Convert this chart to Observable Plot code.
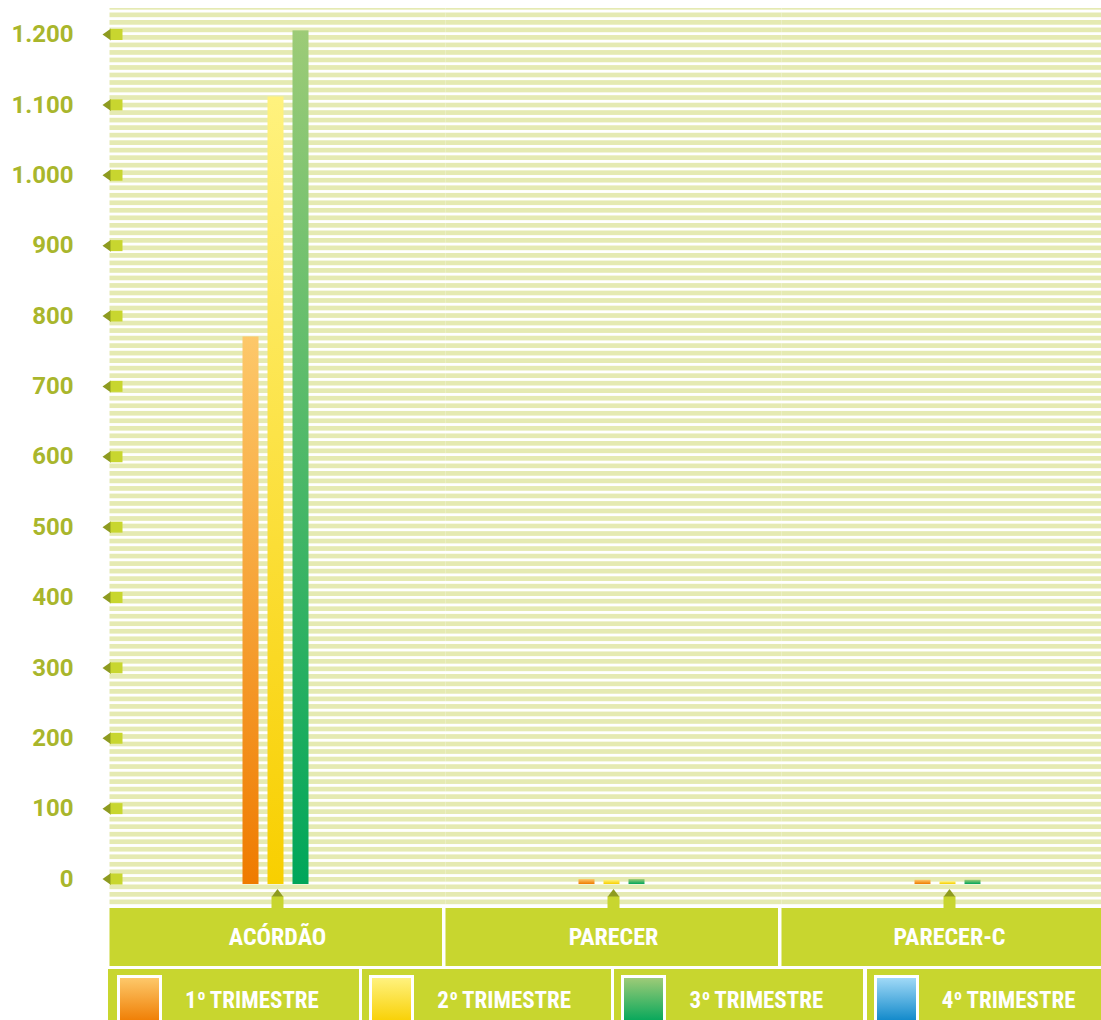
<!DOCTYPE html>
<html><head><meta charset="utf-8">
<script src="https://cdn.jsdelivr.net/npm/d3@7"></script>
<script src="https://cdn.jsdelivr.net/npm/@observablehq/plot@0.6"></script>
<style>
html,body{margin:0;padding:0;background:#fff;overflow:hidden;width:1101px;height:1020px}
#chart svg,#cats svg{display:block;overflow:hidden}
#legend{position:relative;height:51px;margin-top:3px;width:1101px;overflow:hidden}
.lcell{position:absolute;top:0;height:51px;background:#c8d62f}
.sw{position:absolute;left:7px;top:6px;width:39px;height:45px;border:3px solid #fff;border-bottom:none}
.lab{position:absolute;left:62px;width:160px;top:19.5px;line-height:23px;text-align:center;color:#fff;
 font-family:"Liberation Sans Narrow","Roboto Condensed","DejaVu Sans Condensed","Arial Narrow",sans-serif;font-weight:bold;font-size:23px;white-space:nowrap}
.lab .sup{font-size:15px;position:relative;top:-8px;margin-left:1px}
</style></head>
<body>
<div id="chart"></div>
<div id="cats"></div>
<div id="legend"></div>
<script>
// ---- data ----
const categories = ["ACÓRDÃO", "PARECER", "PARECER-C"];
const seriesNames = ["1º TRIMESTRE", "2º TRIMESTRE", "3º TRIMESTRE", "4º TRIMESTRE"];
const q1Values = [778, 7, 6];
const q2Values = [1119, 6, 4];
const q3Values = [1213, 7, 6];
const yTicks = [0, 100, 200, 300, 400, 500, 600, 700, 800, 900, 1000, 1100, 1200];

// ---- styles ----
const lime = "#c8d62f", olive = "#8e9b20", labelColor = "#a9b62c";
const gradients = [["#fdc86a", "#ef7b00"], ["#fff27e", "#f8cf00"], ["#9dcb77", "#00a65a"], ["#a0d9f7", "#0a85c8"]];
const condensed = "'Liberation Sans Narrow','Roboto Condensed','DejaVu Sans Condensed','Arial Narrow',sans-serif";

const seriesValues = [q1Values, q2Values, q3Values];
const data = categories.flatMap((c, i) => seriesValues.map((vals, k) => ({category: c, series: seriesNames[k], value: vals[i]})));

const fmt = d3.formatLocale({decimal: ",", thousands: ".", grouping: [3], currency: ["", ""]}).format(",");

// marker shapes
const sqLeft = {draw(ctx) { ctx.rect(1, -5.5, 12, 11); }};
const triLeft = {draw(ctx) { ctx.moveTo(-7, 0); ctx.lineTo(1.5, -6); ctx.lineTo(1.5, 6); ctx.closePath(); }};
const sqBottom = {draw(ctx) { ctx.rect(-6, -9, 12, 12); }};
const triBottom = {draw(ctx) { ctx.moveTo(0, -16.5); ctx.lineTo(-6, -8.5); ctx.lineTo(6, -8.5); ctx.closePath(); }};

const chart = Plot.plot({
  width: 1101, height: 908,
  marginTop: 7.5, marginBottom: 3, marginLeft: 108, marginRight: -16.5,
  fx: {domain: categories, padding: 0, axis: null, label: null},
  x: {domain: seriesNames.slice(0, 3), paddingInner: 0.346, paddingOuter: 5.14, axis: null, label: null},
  y: {domain: [0, 1200], range: [878.5, 34], axis: null},
  color: {domain: seriesNames, range: gradients.map((_, i) => `url(#g${i})`)},
  style: {background: "transparent"},
  marks: [
    Plot.frame({fill: "url(#stripes)", stroke: null}),
    Plot.barY(data, {fx: "category", x: "series", y: "value", fill: "series", dy: 5.5, dx: -1.5}),
    Plot.axisY(yTicks, {tickSize: 0, tickPadding: 36, fontSize: 24, fontWeight: "bold", fontFamily: "Roboto, 'Open Sans', sans-serif", fill: labelColor, tickFormat: fmt, label: null, facetAnchor: "left"}),
    Plot.dot(yTicks, {y: d => d, frameAnchor: "left", symbol: triLeft, r: 6, fill: olive, stroke: null, facetAnchor: "left"}),
    Plot.dot(yTicks, {y: d => d, frameAnchor: "left", symbol: sqLeft, r: 6, fill: lime, stroke: null, facetAnchor: "left"}),
    Plot.dot(categories, {fx: d => d, frameAnchor: "bottom", symbol: triBottom, r: 6, fill: olive, stroke: null}),
    Plot.dot(categories, {fx: d => d, frameAnchor: "bottom", symbol: sqBottom, r: 6, fill: lime, stroke: null})
  ]
});

const defs = d3.select(chart).insert("defs", ":first-child");
const pat = defs.append("pattern").attr("id", "stripes").attr("patternUnits", "userSpaceOnUse")
  .attr("width", 20).attr("height", 7.517).attr("y", 4.483);
pat.append("rect").attr("width", 20).attr("height", 4.7).attr("fill", "#e5eab2");
gradients.forEach(([a, b], i) => {
  const g = defs.append("linearGradient").attr("id", `g${i}`).attr("x1", 0).attr("y1", 0).attr("x2", 0).attr("y2", 1);
  g.append("stop").attr("offset", 0).attr("stop-color", a);
  g.append("stop").attr("offset", 1).attr("stop-color", b);
});
document.getElementById("chart").append(chart);

const cats = Plot.plot({
  width: 1101, height: 58,
  marginTop: 0, marginBottom: 0, marginLeft: 108, marginRight: -16.5,
  x: {domain: categories, padding: 0, axis: null},
  style: {background: "transparent"},
  marks: [
    Plot.cell(categories, {x: d => d, fill: lime, insetLeft: 0.5, insetRight: 3}),
    Plot.text(categories, {x: d => d, text: d => d, frameAnchor: "middle", fill: "white", fontSize: 24, fontWeight: "bold", fontFamily: condensed})
  ]
});
document.getElementById("cats").append(cats);

const legend = d3.select("#legend");
seriesNames.forEach((name, i) => {
  const left = 110 + 252.2 * i;
  const cell = legend.append("div").attr("class", "lcell")
    .style("left", (i === 0 ? left - 2 : left) + "px")
    .style("width", (i === 0 ? 250.5 : 248.5) + "px");
  const inner = cell.append("div").style("position", "absolute").style("left", (i === 0 ? 2 : 0) + "px").style("top", 0).style("width", "248px").style("height", "51px");
  inner.append("div").attr("class", "sw").style("background", `linear-gradient(to bottom, ${gradients[i][0]}, ${gradients[i][1]})`);
  const [num, rest] = name.split("º");
  const lab = inner.append("div").attr("class", "lab");
  lab.append("span").text(num);
  lab.append("span").attr("class", "sup").text("o");
  lab.append("span").text(rest);
});
</script>
</body></html>
